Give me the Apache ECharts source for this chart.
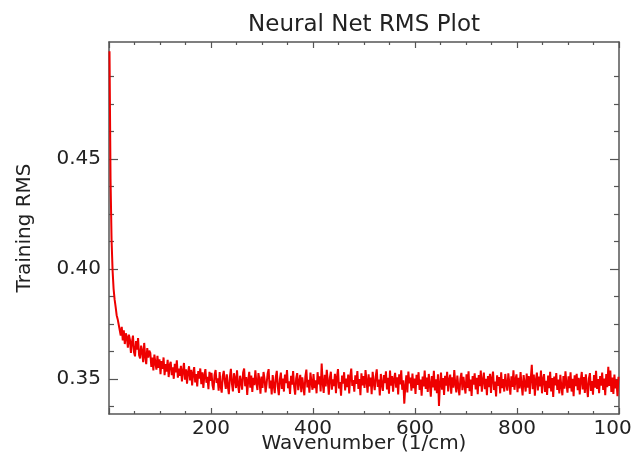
<!DOCTYPE html>
<html>
<head>
<meta charset="utf-8">
<script src="https://cdn.jsdelivr.net/npm/echarts@6/dist/echarts.min.js"></script>
<style>html,body{margin:0;padding:0;background:#fff}#c{width:632px;height:458px}</style>
</head>
<body>
<div id="c"></div>
<script>
// ---- data ----
const titleText = 'Neural Net RMS Plot';
const xName = 'Wavenumber (1/cm)';
const yName = 'Training RMS';
const xTickLabels = [200, 400, 600, 800, 1000];
const yTickLabels = [0.35, 0.40, 0.45];
const xStart = 1, xStep = 2; // wavenumber of first sample and spacing
const rmsValues = [
0.4990,0.4410,0.4135,0.3995,0.3910,0.3862,0.3828,0.3790,0.3772,0.3748,
0.3745,0.3698,0.3737,0.3676,0.3721,0.3659,0.3708,0.3690,0.3643,0.3702,
0.3679,0.3619,0.3668,0.3697,0.3622,0.3603,0.3672,0.3634,0.3686,0.3608,
0.3594,0.3652,0.3628,0.3577,0.3664,0.3603,0.3568,0.3641,0.3597,0.3629,
0.3619,0.3555,0.3597,0.3539,0.3611,0.3572,0.3543,0.3605,0.3551,0.3590,
0.3522,0.3582,0.3546,0.3598,0.3517,0.3568,0.3534,0.3587,0.3509,0.3563,
0.3578,0.3518,0.3553,0.3501,0.3569,0.3530,0.3585,0.3506,0.3547,0.3514,
0.3560,0.3489,0.3536,0.3573,0.3497,0.3544,0.3479,0.3531,0.3558,0.3494,
0.3542,0.3471,0.3527,0.3554,0.3485,0.3522,0.3466,0.3536,0.3502,0.3548,
0.3477,0.3530,0.3460,0.3516,0.3545,0.3483,0.3510,0.3454,0.3533,0.3492,
0.3528,0.3471,0.3450,0.3519,0.3541,0.3482,0.3503,0.3447,0.3532,0.3466,
0.3438,0.3512,0.3537,0.3490,0.3455,0.3521,0.3468,0.3431,0.3509,0.3546,
0.3479,0.3444,0.3526,0.3501,0.3459,0.3540,0.3473,0.3437,0.3515,0.3488,
0.3452,0.3530,0.3548,0.3467,0.3509,0.3428,0.3495,0.3533,0.3461,0.3516,
0.3441,0.3505,0.3472,0.3539,0.3483,0.3450,0.3527,0.3496,0.3433,0.3511,
0.3460,0.3532,0.3501,0.3439,0.3478,0.3524,0.3545,0.3457,0.3493,0.3430,
0.3518,0.3471,0.3436,0.3509,0.3537,0.3464,0.3427,0.3498,0.3529,0.3455,
0.3502,0.3443,0.3520,0.3481,0.3541,0.3458,0.3490,0.3432,0.3515,0.3474,
0.3536,0.3465,0.3429,0.3503,0.3527,0.3449,0.3487,0.3519,0.3440,0.3508,
0.3470,0.3426,0.3511,0.3543,0.3462,0.3496,0.3438,0.3529,0.3485,0.3451,
0.3523,0.3459,0.3494,0.3435,0.3531,0.3476,0.3512,0.3444,0.3570,0.3482,
0.3437,0.3519,0.3466,0.3542,0.3490,0.3429,0.3505,0.3533,0.3452,0.3498,
0.3468,0.3524,0.3436,0.3509,0.3545,0.3457,0.3486,0.3424,0.3516,0.3479,
0.3531,0.3448,0.3502,0.3463,0.3520,0.3434,0.3511,0.3547,0.3469,0.3495,
0.3442,0.3517,0.3478,0.3536,0.3455,0.3500,0.3427,0.3526,0.3471,0.3513,
0.3460,0.3541,0.3489,0.3438,0.3521,0.3467,0.3507,0.3431,0.3533,0.3484,
0.3449,0.3512,0.3544,0.3464,0.3497,0.3425,0.3523,0.3476,0.3446,0.3518,
0.3481,0.3535,0.3453,0.3506,0.3433,0.3539,0.3470,0.3514,0.3442,0.3499,
0.3528,0.3461,0.3508,0.3430,0.3522,0.3475,0.3540,0.3451,0.3494,0.3388,
0.3466,0.3517,0.3439,0.3534,0.3480,0.3506,0.3447,0.3525,0.3458,0.3502,
0.3432,0.3519,0.3473,0.3531,0.3450,0.3498,0.3424,0.3511,0.3467,0.3538,
0.3455,0.3507,0.3441,0.3523,0.3476,0.3420,0.3514,0.3462,0.3537,0.3448,
0.3499,0.3436,0.3521,0.3378,0.3479,0.3529,0.3452,0.3504,0.3428,0.3515,
0.3470,0.3533,0.3444,0.3496,0.3520,0.3433,0.3508,0.3461,0.3541,0.3477,
0.3439,0.3516,0.3465,0.3426,0.3502,0.3528,0.3449,0.3510,0.3472,0.3434,
0.3522,0.3460,0.3535,0.3445,0.3498,0.3423,0.3513,0.3474,0.3526,0.3453,
0.3506,0.3431,0.3518,0.3467,0.3539,0.3442,0.3493,0.3529,0.3454,0.3501,
0.3427,0.3514,0.3463,0.3524,0.3437,0.3503,0.3534,0.3450,0.3488,0.3421,
0.3517,0.3469,0.3509,0.3435,0.3530,0.3458,0.3500,0.3443,0.3523,0.3476,
0.3447,0.3526,0.3481,0.3429,0.3512,0.3464,0.3540,0.3451,0.3497,0.3521,
0.3440,0.3506,0.3457,0.3532,0.3473,0.3425,0.3518,0.3479,0.3443,0.3525,
0.3461,0.3513,0.3432,0.3502,0.3565,0.3454,0.3520,0.3424,0.3495,0.3529,
0.3448,0.3511,0.3467,0.3538,0.3435,0.3499,0.3522,0.3441,0.3492,0.3428,
0.3516,0.3458,0.3533,0.3444,0.3504,0.3419,0.3511,0.3471,0.3527,0.3450,
0.3497,0.3434,0.3519,0.3465,0.3426,0.3514,0.3456,0.3535,0.3478,0.3438,
0.3512,0.3459,0.3530,0.3443,0.3501,0.3422,0.3517,0.3468,0.3524,0.3449,
0.3506,0.3430,0.3494,0.3532,0.3453,0.3509,0.3437,0.3521,0.3464,0.3418,
0.3503,0.3527,0.3446,0.3491,0.3429,0.3518,0.3461,0.3537,0.3455,0.3500,
0.3436,0.3514,0.3470,0.3529,0.3450,0.3502,0.3426,0.3523,0.3463,0.3556,
0.3469,0.3538,0.3441,0.3507,0.3432,0.3520,0.3457,0.3496,0.3422,0.3510
];
const xMin = 0, xMax = 1000;
const yMin = 0.3341, yMax = 0.5032;
const yMinorStep = 0.0125;

// ---- build chart ----
const seriesData = rmsValues.map((v, i) => [xStart + i * xStep, v]);
const yMinor = [];
for (let k = Math.ceil(yMin / yMinorStep); k * yMinorStep <= yMax; k++) {
  const v = +(k * yMinorStep).toFixed(4);
  if (Math.abs(v / 0.05 - Math.round(v / 0.05)) > 1e-6) yMinor.push(v);
}
const FONT = 'DejaVu Sans';
const lineCol = '#555';
const txtCol = '#222';

function xAx(pos, showLabel, extra) {
  return Object.assign({
    type: 'value', position: pos, min: xMin, max: xMax, interval: 200,
    axisLine: { show: true, onZero: false, lineStyle: { color: lineCol, width: 1.5 } },
    axisTick: { show: true, inside: true, length: 6, lineStyle: { color: lineCol, width: 1.2 } },
    minorTick: { show: true, splitNumber: 4, length: 3, lineStyle: { color: lineCol, width: 1.2 } },
    axisLabel: {
      show: showLabel, margin: 5, fontSize: 20, color: txtCol, fontFamily: FONT,
      customValues: xTickLabels,
      formatter: v => (xTickLabels.indexOf(v) >= 0 ? String(v) : '')
    },
    splitLine: { show: false }
  }, extra || {});
}
function yAx(pos, values, len, showLine, showLabel) {
  return {
    type: 'value', position: pos, min: yMin, max: yMax,
    axisLine: { show: showLine, onZero: false, lineStyle: { color: lineCol, width: 1.5 } },
    axisTick: { show: true, inside: true, length: len, customValues: values, lineStyle: { color: lineCol, width: 1.2 } },
    axisLabel: {
      show: showLabel, margin: 8, fontSize: 20, color: txtCol, fontFamily: FONT,
      customValues: yTickLabels, formatter: v => v.toFixed(2)
    },
    splitLine: { show: false }
  };
}

const chart = echarts.init(document.getElementById('c'), null, { renderer: 'canvas' });
chart.setOption({
  animation: false,
  backgroundColor: '#fff',
  title: {
    text: titleText, left: 364, top: 14, textAlign: 'center', padding: 0,
    textStyle: { fontSize: 23, fontWeight: 'normal', color: txtCol, fontFamily: FONT }
  },
  grid: { left: 109, right: 13, top: 42, bottom: 44, containLabel: false, outerBoundsMode: 'none' },
  xAxis: [
    xAx('bottom', true, {
      name: xName, nameLocation: 'middle', nameGap: 20, nameMoveOverlap: false,
      nameTextStyle: { fontSize: 20, color: txtCol, fontFamily: FONT }
    }),
    xAx('top', false)
  ],
  yAxis: [
    Object.assign(yAx('left', yTickLabels, 9, true, true), {
      name: yName, nameLocation: 'middle', nameGap: 74, nameMoveOverlap: false,
      nameTextStyle: { fontSize: 20, color: txtCol, fontFamily: FONT }
    }),
    yAx('left', yMinor, 5, false, false),
    yAx('right', yTickLabels, 9, true, false),
    yAx('right', yMinor, 5, false, false)
  ],
  series: [{
    type: 'line', data: seriesData, xAxisIndex: 0, yAxisIndex: 0,
    showSymbol: false, symbol: 'none', clip: true,
    lineStyle: { color: '#ee0000', width: 2 }
  }]
});
</script>
</body>
</html>
